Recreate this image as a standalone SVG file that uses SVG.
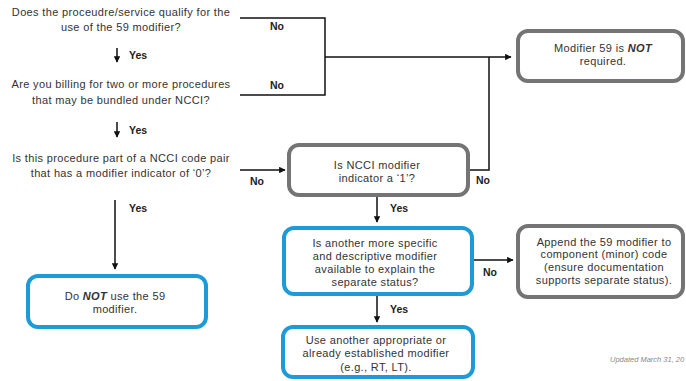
<svg xmlns="http://www.w3.org/2000/svg" width="686" height="381" viewBox="0 0 686 381">
<defs>
<marker id="arr" viewBox="0 0 10 10" refX="9" refY="5" markerWidth="6.5" markerHeight="6.5" orient="auto" markerUnits="userSpaceOnUse">
<path d="M0,0 L10,5 L0,10 z" fill="#111"/>
</marker>
<style>
text{font-family:"Liberation Sans",Arial,sans-serif;fill:#333;font-size:11px;letter-spacing:0.35px;text-anchor:middle}
.lbl{font-weight:bold;font-size:10.5px;letter-spacing:0;text-anchor:start;fill:#222}
.gray{fill:#fff;stroke:#747474;stroke-width:4}
.blue{fill:#fff;stroke:#1e9bd7;stroke-width:4}
.ln{fill:none;stroke:#111;stroke-width:1.5}
.ar{fill:none;stroke:#111;stroke-width:1.5;marker-end:url(#arr)}
.note{font-size:7.5px;letter-spacing:0;font-style:italic;fill:#888;text-anchor:start}
</style>
</defs>
<g id="connectors">
<polyline class="ln" points="240,18 325,18 325,95 240,95"/>
<line class="ar" x1="325" y1="57" x2="511" y2="57"/>
<polyline class="ln" points="469,170 489,170 489,57"/>
<line class="ar" x1="117" y1="48" x2="117" y2="62"/>
<line class="ar" x1="117" y1="122" x2="117" y2="137"/>
<line class="ar" x1="240" y1="170" x2="285" y2="170"/>
<line class="ar" x1="115" y1="200" x2="115" y2="269"/>
<line class="ar" x1="377" y1="196" x2="377" y2="222"/>
<line class="ar" x1="377" y1="296" x2="377" y2="322"/>
<line class="ar" x1="474" y1="260" x2="513" y2="260"/>
<text class="lbl" x="270" y="30">No</text>
<text class="lbl" x="270" y="89">No</text>
<text class="lbl" x="129" y="59">Yes</text>
<text class="lbl" x="129" y="134">Yes</text>
<text class="lbl" x="250" y="185">No</text>
<text class="lbl" x="476" y="184">No</text>
<text class="lbl" x="129" y="212">Yes</text>
<text class="lbl" x="390" y="212">Yes</text>
<text class="lbl" x="390" y="313">Yes</text>
<text class="lbl" x="483" y="276">No</text>
</g>
<g id="q1">
<text x="121" y="16">Does the proceudre/service qualify for the</text>
<text x="121" y="31">use of the 59 modifier?</text>
</g>
<g id="q2">
<text x="121" y="88">Are you billing for two or more procedures</text>
<text x="121" y="104">that may be bundled under NCCI?</text>
</g>
<g id="q3">
<text x="121" y="162">Is this procedure part of a NCCI code pair</text>
<text x="121" y="177">that has a modifier indicator of ‘0’?</text>
</g>
<g id="not-required">
<rect class="gray" x="518" y="31" width="165" height="50" rx="10"/>
<text x="603" y="52">Modifier 59 is <tspan font-weight="bold" font-style="italic">NOT</tspan></text>
<text x="603" y="65">required.</text>
</g>
<g id="ncci1">
<rect class="gray" x="289" y="145" width="179" height="50" rx="10"/>
<text x="377" y="169">Is NCCI modifier</text>
<text x="377" y="182">indicator a ‘1’?</text>
</g>
<g id="do-not">
<rect class="blue" x="28" y="276" width="178" height="51" rx="10"/>
<text x="115" y="300">Do <tspan font-weight="bold" font-style="italic">NOT</tspan> use the 59</text>
<text x="115" y="313">modifier.</text>
</g>
<g id="another">
<rect class="blue" x="284" y="228" width="188" height="66" rx="10"/>
<text x="375" y="247">Is another more specific</text>
<text x="375" y="260">and descriptive modifier</text>
<text x="375" y="273">available to explain the</text>
<text x="375" y="286">separate status?</text>
</g>
<g id="use-another">
<rect class="blue" x="283" y="327" width="190" height="50" rx="10"/>
<text x="376" y="344">Use another appropriate or</text>
<text x="376" y="357">already established modifier</text>
<text x="376" y="371">(e.g., RT, LT).</text>
</g>
<g id="append">
<rect class="gray" x="518" y="226" width="165" height="71" rx="10"/>
<text x="604" y="246">Append the 59 modifier to</text>
<text x="604" y="258">component (minor) code</text>
<text x="604" y="271">(ensure documentation</text>
<text x="604" y="284">supports separate status).</text>
</g>
<text class="note" x="610" y="362">Updated March 31, 20</text>
</svg>
